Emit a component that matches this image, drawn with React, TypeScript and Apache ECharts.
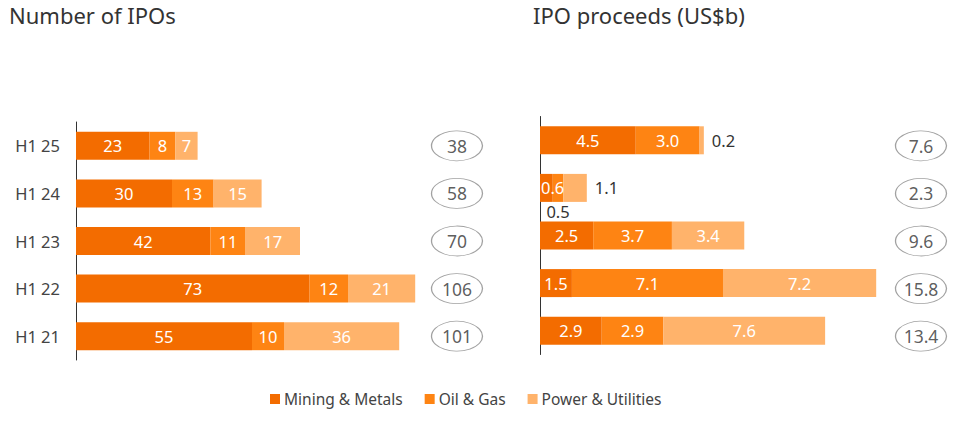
import React, { useEffect, useRef } from "react";
import * as echarts from "echarts";

const categories = ["H1 25", "H1 24", "H1 23", "H1 22", "H1 21"];
const seriesNames = ["Mining & Metals", "Oil & Gas", "Power & Utilities"];

const countMining = [23, 30, 42, 73, 55];
const countOil = [8, 13, 11, 12, 10];
const countPower = [7, 15, 17, 21, 36];
const countTotals = ["38", "58", "70", "106", "101"];

const procMining = [4.5, 0.6, 2.5, 1.5, 2.9];
const procOil = [3.0, 0.5, 3.7, 7.1, 2.9];
const procPower = [0.2, 1.1, 3.4, 7.2, 7.6];
const procTotals = ["7.6", "2.3", "9.6", "15.8", "13.4"];

const colors = ["#F36C00", "#FE8413", "#FFB36B"];
const FONT = "Noto Sans";

export default function App() {
  const ref = useRef<HTMLDivElement>(null);
  useEffect(() => {
    if (!ref.current) return;
    const chart = echarts.init(ref.current, undefined, { renderer: "svg" });

    const inLabel = {
      show: true,
      position: "inside",
      color: "#fff",
      fontSize: 16.5,
      fontFamily: FONT,
    };

    const barSeries = (name: string, data: any[], idx: number, axis: number, fmt: (v: number) => string) => ({
      name,
      type: "bar",
      stack: "s" + axis,
      xAxisIndex: axis,
      yAxisIndex: axis,
      barWidth: 28,
      itemStyle: { color: colors[idx] },
      label: { ...inLabel, formatter: (p: any) => fmt(typeof p.value === "object" ? p.value.value : p.value) },
      data,
    });

    const fmtInt = (v: number) => String(v);
    const fmt1 = (v: number) => Number(v).toFixed(1);

    const darkOut = { color: "#333" };
    const procMiningData = procMining.map((v, i) =>
      i === 1 ? { value: v, label: { position: "insideLeft", distance: 1 } } : v
    );
    const procOilData = procOil.map((v, i) =>
      i === 1 ? { value: v, label: { position: "bottom", distance: 1, ...darkOut } } : v
    );
    const procPowerData = procPower.map((v, i) =>
      i === 0 || i === 1 ? { value: v, label: { position: "right", distance: 8, ...darkOut } } : v
    );

    const ellipse = (totals: string[], axis: number) => ({
      type: "scatter",
      xAxisIndex: axis,
      yAxisIndex: axis,
      symbol: "circle",
      symbolSize: [51, 30],
      itemStyle: { color: "#fff", borderColor: "#8a8a8a", borderWidth: 1 },
      label: {
        show: true,
        position: "inside",
        color: "#333",
        fontSize: 17.5,
        fontFamily: FONT,
        formatter: (p: any) => totals[p.dataIndex],
      },
      data: totals.map((_, i) => [0.5, categories[i]]),
    });

    const catAxis = (grid: number, showLine: boolean, showLabel: boolean) => ({
      type: "category",
      gridIndex: grid,
      data: categories,
      inverse: true,
      axisLine: { show: showLine, lineStyle: { color: "#333", width: 1 } },
      axisTick: { show: false },
      axisLabel: {
        show: showLabel,
        color: "#444",
        fontSize: 16.5,
        fontFamily: FONT,
        margin: 16,
      },
    });

    const valAxis = (grid: number, max: number) => ({
      type: "value",
      gridIndex: grid,
      min: 0,
      max,
      show: false,
    });

    const titleStyle = { fontSize: 22, fontWeight: "normal", color: "#333", fontFamily: FONT };

    chart.setOption({
      animation: false,
      textStyle: { fontFamily: FONT },
      title: [
        { text: "Number of IPOs", left: 9, top: 4, padding: 0, textStyle: titleStyle },
        { text: "IPO proceeds (US$b)", left: 533, top: 4, padding: 0, textStyle: titleStyle },
      ],
      legend: {
        data: seriesNames,
        bottom: 12,
        left: 265,
        icon: "rect",
        itemWidth: 10,
        itemHeight: 10,
        itemGap: 22,
        textStyle: { color: "#444", fontSize: 15.5, fontFamily: FONT, padding: [0, 0, 0, -1] },
      },
      grid: [
        { left: 76, top: 122, width: 384, height: 238 },
        { left: 540, top: 116.5, width: 383, height: 238 },
        { left: 431, top: 122, width: 52, height: 238 },
        { left: 895, top: 122, width: 52, height: 238 },
      ],
      xAxis: [valAxis(0, 120), valAxis(1, 18), valAxis(2, 1), valAxis(3, 1)],
      yAxis: [catAxis(0, true, true), catAxis(1, true, false), catAxis(2, false, false), catAxis(3, false, false)],
      series: [
        barSeries(seriesNames[0], countMining, 0, 0, fmtInt),
        barSeries(seriesNames[1], countOil, 1, 0, fmtInt),
        barSeries(seriesNames[2], countPower, 2, 0, fmtInt),
        barSeries(seriesNames[0], procMiningData, 0, 1, fmt1),
        barSeries(seriesNames[1], procOilData, 1, 1, fmt1),
        barSeries(seriesNames[2], procPowerData, 2, 1, fmt1),
        ellipse(countTotals, 2),
        ellipse(procTotals, 3),
      ],
    });
    return () => chart.dispose();
  }, []);
  return <div ref={ref} style={{ width: 960, height: 424, position: "absolute", left: 0, top: 0 }} />;
}
